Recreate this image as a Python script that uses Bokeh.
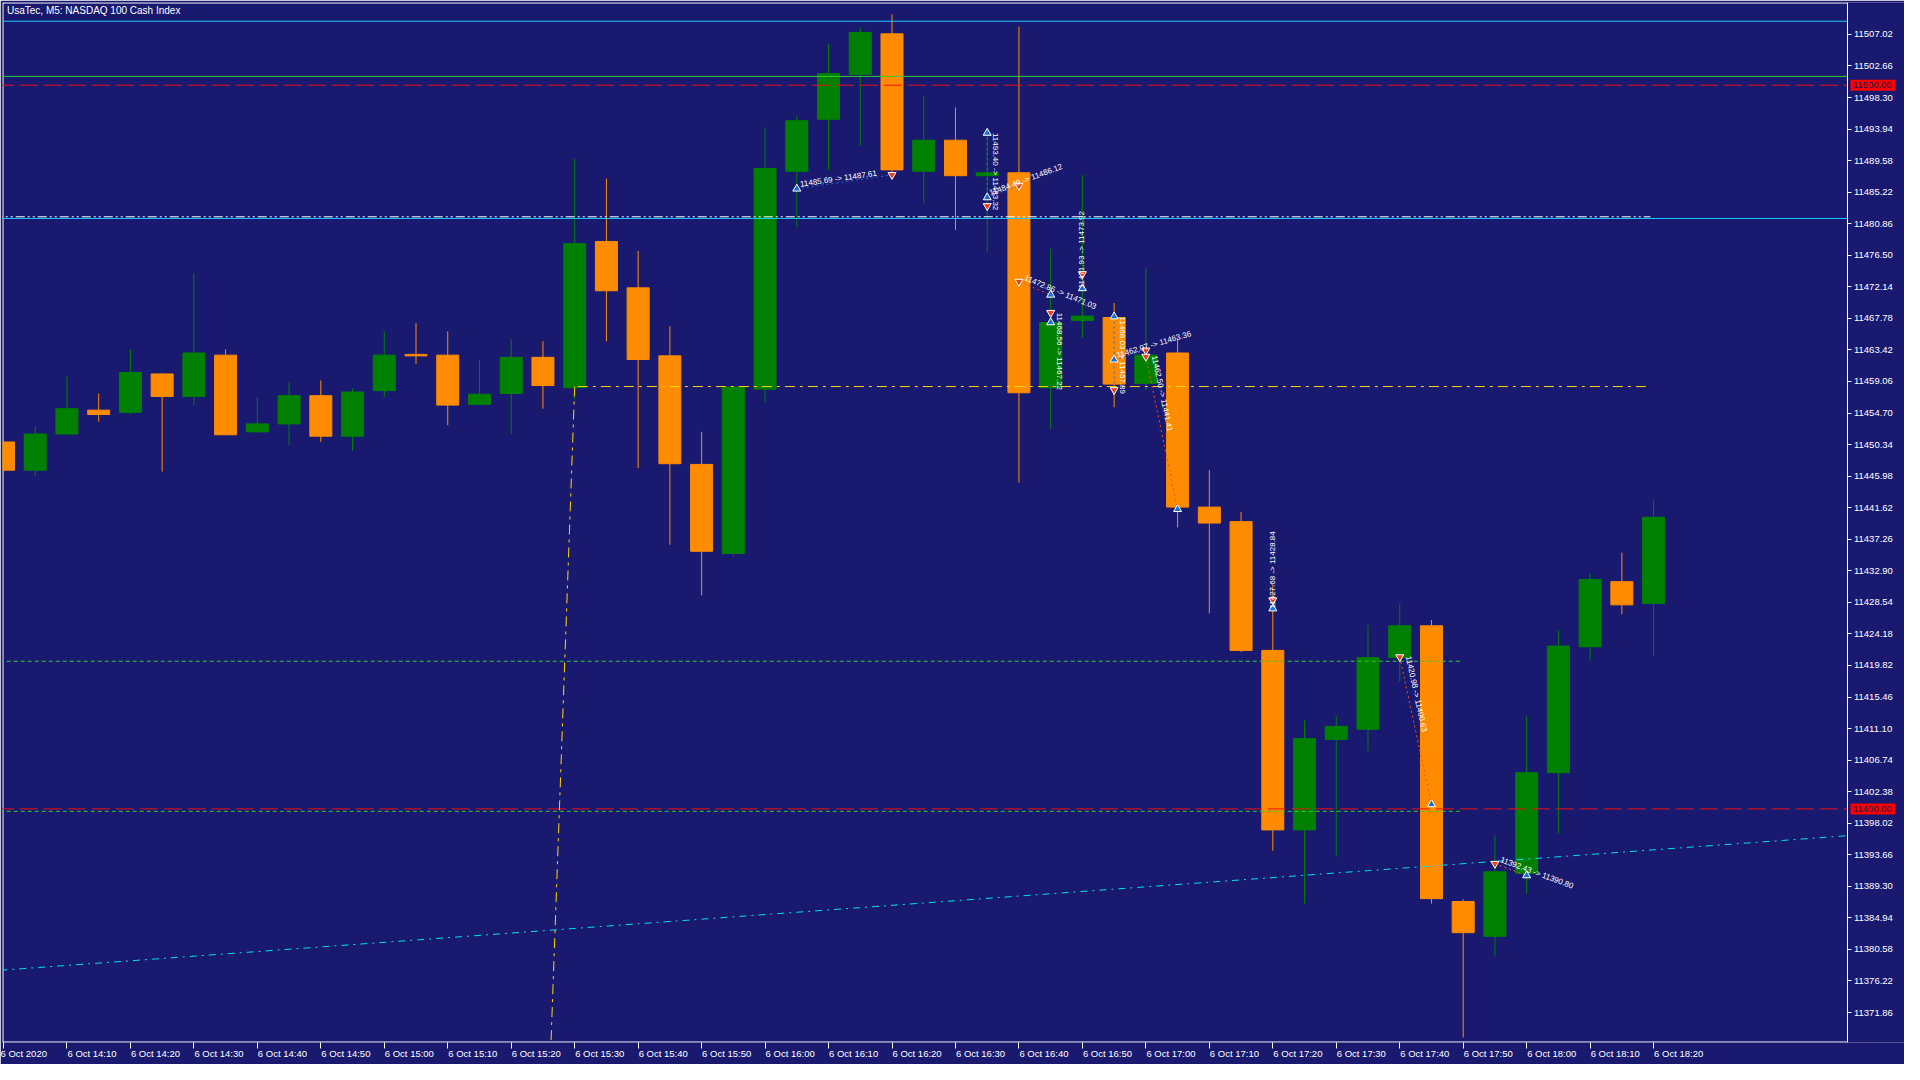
import math
from bokeh.plotting import figure
from bokeh.models import ColumnDataSource, Label, FixedTicker, PrintfTickFormatter
from bokeh.core.properties import value
from bokeh.embed import file_html
from bokeh.resources import INLINE

# colours of the terminal
BG = "#191970"
UP = "#008000"
DOWN = "#FF8C00"

# M5 bars from 6 Oct 14:00 (bar 0) to 18:20 (bar 52)
bar_x = list(range(53))
opens = [11450.7, 11446.8, 11451.8, 11455.1, 11454.8, 11460.1, 11457.0, 11462.7, 11452.1, 11453.2,
         11457.1, 11451.5, 11457.8, 11462.8, 11462.7, 11455.9, 11457.4, 11462.4, 11458.2, 11478.4,
         11472.0, 11462.6, 11447.6, 11435.3, 11458.0, 11488.1, 11495.3, 11501.5, 11507.1, 11488.1,
         11492.4, 11487.5, 11487.9, 11458.2, 11467.5, 11467.9, 11458.8, 11463.0, 11441.7, 11439.7,
         11421.9, 11397.1, 11409.6, 11411.0, 11420.9, 11425.3, 11387.2, 11382.4, 11391.1, 11405.0,
         11422.4, 11431.4, 11428.4]
highs = [11451.2, 11452.8, 11459.8, 11457.4, 11463.5, 11460.2, 11474.0, 11463.5, 11456.9, 11458.9,
         11459.2, 11458.1, 11466.0, 11467.1, 11466.0, 11462.0, 11464.9, 11464.6, 11489.8, 11487.1,
         11477.1, 11466.7, 11452.1, 11458.4, 11494.2, 11495.8, 11505.7, 11508.0, 11509.8, 11498.5,
         11496.9, 11493.4, 11508.1, 11477.4, 11487.6, 11469.9, 11474.7, 11465.0, 11446.8, 11441.0,
         11431.0, 11412.2, 11412.9, 11425.4, 11428.4, 11426.1, 11387.5, 11396.3, 11412.8, 11424.7,
         11432.5, 11435.4, 11442.7]
lows = [11446.3, 11446.0, 11451.7, 11453.5, 11454.5, 11446.6, 11455.8, 11451.7, 11452.0, 11450.2,
        11450.7, 11449.5, 11456.9, 11461.5, 11453.0, 11455.8, 11451.8, 11455.3, 11456.6, 11464.6,
        11447.1, 11436.5, 11429.5, 11434.9, 11456.1, 11480.4, 11488.3, 11491.7, 11487.5, 11483.7,
        11480.0, 11476.9, 11445.1, 11452.5, 11465.1, 11455.5, 11457.9, 11438.9, 11427.0, 11421.7,
        11394.2, 11386.9, 11393.4, 11408.0, 11417.6, 11386.9, 11368.4, 11379.7, 11388.3, 11396.6,
        11420.5, 11426.9, 11421.1]
closes = [11446.8, 11451.8, 11455.3, 11454.5, 11460.3, 11457.0, 11463.0, 11451.7, 11453.2, 11457.1,
          11451.5, 11457.6, 11462.7, 11462.6, 11455.8, 11457.3, 11462.4, 11458.5, 11478.1, 11471.6,
          11462.1, 11447.7, 11435.6, 11458.3, 11488.5, 11495.1, 11501.6, 11507.3, 11488.3, 11492.4,
          11487.5, 11487.9, 11457.5, 11467.2, 11468.1, 11458.7, 11462.7, 11441.7, 11439.5, 11421.9,
          11397.1, 11409.7, 11411.4, 11420.9, 11425.3, 11387.6, 11382.9, 11391.3, 11405.0, 11422.5,
          11431.7, 11428.2, 11440.3]

price_ticks = [11507.02, 11502.66, 11498.30, 11493.94, 11489.58, 11485.22, 11480.86, 11476.50,
               11472.14, 11467.78, 11463.42, 11459.06, 11454.70, 11450.34, 11445.98, 11441.62,
               11437.26, 11432.90, 11428.54, 11424.18, 11419.82, 11415.46, 11411.10, 11406.74,
               11402.38, 11398.02, 11393.66, 11389.30, 11384.94, 11380.58, 11376.22, 11371.86]
time_tick_x = list(range(0, 53, 2))
time_tick_labels = ["6 Oct 2020", "6 Oct 14:10", "6 Oct 14:20", "6 Oct 14:30", "6 Oct 14:40",
                    "6 Oct 14:50", "6 Oct 15:00", "6 Oct 15:10", "6 Oct 15:20", "6 Oct 15:30",
                    "6 Oct 15:40", "6 Oct 15:50", "6 Oct 16:00", "6 Oct 16:10", "6 Oct 16:20",
                    "6 Oct 16:30", "6 Oct 16:40", "6 Oct 16:50", "6 Oct 17:00", "6 Oct 17:10",
                    "6 Oct 17:20", "6 Oct 17:30", "6 Oct 17:40", "6 Oct 17:50", "6 Oct 18:00",
                    "6 Oct 18:10", "6 Oct 18:20"]

# drawn objects
top_cyan = 11508.84
top_green = 11501.22
level_upper = 11500.00
level_lower = 11400.00
cyan_level = 11481.59
white_level = 11481.82
white_end = 51.9
yellow_level = 11458.36
yellow_x = [18.1, 51.9]
green_dots = [11420.4, 11399.66]
green_end = 45.9
trend_x = [-0.1, 58.125]
trend_y = [11377.7, 11396.3]
slant_x = [18.0, 17.19]
slant_y = [11458.36, 11360.0]

# trade history
trade_open_x = [25, 31, 31, 32, 34, 33, 35, 35, 36, 40, 44, 47]
trade_open_p = [11485.69, 11493.40, 11484.49, 11472.86, 11471.93, 11468.56, 11468.03, 11462.07,
                11462.50, 11427.68, 11420.98, 11392.43]
trade_close_x = [28, 31, 32, 33, 34, 33, 35, 36, 37, 40, 45, 48]
trade_close_p = [11487.61, 11483.32, 11486.12, 11471.03, 11473.92, 11467.22, 11457.89, 11463.36,
                 11441.41, 11428.84, 11400.63, 11390.80]
trade_type = ["buy", "buy", "buy", "sell", "buy", "sell", "buy", "buy", "sell", "buy", "sell", "sell"]

W, H = 1904, 1064
left, top, bottom = 2, 2, 22
frame_w, frame_h = W - left, H - top - bottom
px_bar = 31.733
x_start, x_chart_end = -0.031, 58.125
x_end = x_start + frame_w / px_bar
y_start, y_end = 11367.72, 11511.43
px_pt = frame_h / (y_end - y_start)

p = figure(width=W, height=H, x_range=(x_start, x_end), y_range=(y_start, y_end),
           output_backend="svg", toolbar_location=None, y_axis_location="right",
           min_border_left=left, min_border_top=top, min_border_right=0, min_border_bottom=bottom)
p.background_fill_color = BG
p.border_fill_color = BG
p.outline_line_color = None
p.xgrid.visible = False
p.ygrid.visible = False

# price scale sits on the right edge of the chart area
ya = p.yaxis[0]
ya.fixed_location = x_chart_end
ya.ticker = FixedTicker(ticks=price_ticks)
ya.formatter = PrintfTickFormatter(format="%.2f")
ya.axis_line_color = "white"
ya.major_tick_line_color = "white"
ya.major_tick_out = 4
ya.major_tick_in = 0
ya.minor_tick_line_color = None
ya.major_label_standoff = 2
ya.major_label_text_color = "white"
ya.major_label_text_font = "Liberation Sans"
ya.major_label_text_font_size = "9.5px"

# time labels start at their tick, as the terminal writes them
xa = p.xaxis[0]
xa.ticker = FixedTicker(ticks=time_tick_x)
xa.major_label_overrides = {t: ("" if i == 0 else "\u00a0" * 19) + lab
                            for i, (t, lab) in enumerate(zip(time_tick_x, time_tick_labels))}
xa.axis_line_color = None
xa.major_tick_line_color = "white"
xa.major_tick_out = 6
xa.major_tick_in = 0
xa.minor_tick_line_color = None
xa.major_label_standoff = -1
xa.major_label_text_color = "white"
xa.major_label_text_font = "Liberation Sans"
xa.major_label_text_font_size = "9.5px"

# chart border (the price scale line closes it on the right)
p.line([x_start, x_chart_end], [y_end - 0.5 / px_pt] * 2, line_color="white", line_width=1)
p.line([x_start, x_chart_end], [y_start + 0.5 / px_pt] * 2, line_color="white", line_width=1)
p.line([x_start + 0.5 / px_bar] * 2, [y_start, y_end], line_color="white", line_width=1)

# candles
colors = [UP if c >= o else DOWN for o, c in zip(opens, closes)]
src = ColumnDataSource(dict(x=bar_x, o=opens, h=highs, l=lows, c=closes,
                            top=[max(o, c) for o, c in zip(opens, closes)],
                            bot=[min(o, c) for o, c in zip(opens, closes)], col=colors))
p.segment(x0="x", y0="l", x1="x", y1="h", color="col", line_width=1, source=src)
p.vbar(x="x", width=22 / px_bar, top="top", bottom="bot", fill_color="col", line_color="col", source=src)

# horizontal lines
full = [-1, x_chart_end]
p.line(full, [top_cyan] * 2, line_color="#1ECBFF", line_width=1)
p.line(full, [top_green] * 2, line_color="#32CD32", line_width=1)
p.line(full, [level_upper] * 2, line_color="#E8101A", line_width=1, line_dash="18 6")
p.line(full, [level_lower] * 2, line_color="#F01010", line_width=1, line_dash="18 6")
p.line(full, [cyan_level] * 2, line_color="#1ECBFF", line_width=1)
p.line([-1, white_end], [white_level] * 2, line_color="white", line_width=1, line_dash="9 3 2 3 2 3")
p.line(yellow_x, [yellow_level] * 2, line_color="#FFD700", line_width=1, line_dash="10 5 3 5")
for g in green_dots:
    p.line([-1, green_end], [g, g], line_color="#32CD32", line_width=1, line_dash="4 3")
p.line(trend_x, trend_y, line_color="#00E0F0", line_width=1, line_dash="7 5 2 5")
p.line(slant_x, slant_y, line_color="#FFD700", line_width=1, line_dash="10 5 3 5")

# trades: dotted links, arrows and texts
link_col = ["#2A6BD6" if t == "buy" else "#FF4A1A" for t in trade_type]
p.segment(x0=trade_open_x, y0=trade_open_p, x1=trade_close_x, y1=trade_close_p,
          line_color=link_col, line_width=1, line_dash="2 3")

up_x, up_y, dn_x, dn_y = [], [], [], []
for ox, op, cx, cp, t in zip(trade_open_x, trade_open_p, trade_close_x, trade_close_p, trade_type):
    if t == "buy":
        up_x.append(ox); up_y.append(op); dn_x.append(cx); dn_y.append(cp)
    else:
        dn_x.append(ox); dn_y.append(op); up_x.append(cx); up_y.append(cp)
p.scatter(up_x, up_y, marker="triangle", size=8, fill_color="#1C6FD0", line_color="white", line_width=1)
p.scatter(dn_x, dn_y, marker="inverted_triangle", size=8, fill_color="#E8401C", line_color="white", line_width=1)

angles, texts = [], []
for ox, op, cx, cp in zip(trade_open_x, trade_open_p, trade_close_x, trade_close_p):
    angles.append(math.atan2((cp - op) * px_pt, (cx - ox) * px_bar))
    texts.append(f"{op:.2f} -> {cp:.2f}")
p.text(x=trade_open_x, y=trade_open_p, text=texts, angle=angles, text_color="white",
       text_font=value("Liberation Sans"), text_font_size="8px", text_align="left", text_baseline="bottom",
       x_offset=4)

# title
p.add_layout(Label(x=x_start + 4.5 / px_bar, y=y_end - 8 / px_pt, text="UsaTec, M5:  NASDAQ 100 Cash Index",
                   text_color="white", text_font="Liberation Sans", text_font_size="10px",
                   text_baseline="middle", text_align="left"))

# price boxes of the two levels, on the price scale
levels = [level_upper, level_lower]
box_l, box_r = x_chart_end + 2.5 / px_bar, x_chart_end + 47.5 / px_bar
p.quad(left=box_l, right=box_r, bottom=[lv - 5.5 / px_pt for lv in levels],
       top=[lv + 5.5 / px_pt for lv in levels], fill_color="#FF0000", line_color=None)
p.text(x=box_l + 2.5 / px_bar, y=levels, text=[f"{lv:.2f}" for lv in levels], text_color="#191950",
       text_font=value("Liberation Sans"), text_font_size="9.5px", text_align="left", text_baseline="middle")

open("out.html", "w").write(file_html(p, INLINE))
